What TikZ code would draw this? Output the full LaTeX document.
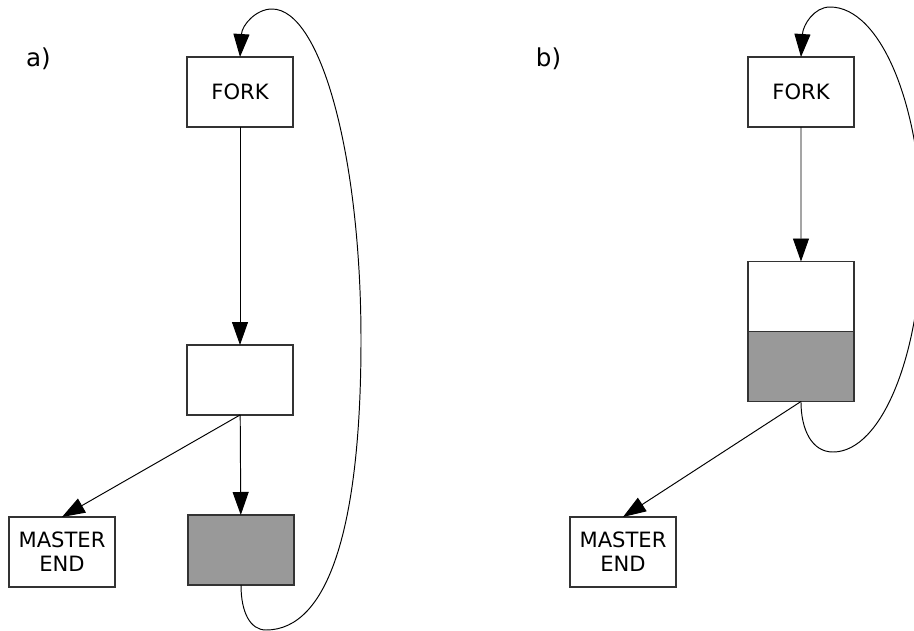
\documentclass[tikz,border=0pt]{standalone}
\usepackage{fontspec}
\setmainfont{DejaVu Sans}
\usepackage{tikz}
\usetikzlibrary{arrows.meta,positioning}
\definecolor{boxgray}{RGB}{153,153,153}

\begin{document}
\begin{tikzpicture}[scale=0.2,
  box/.style={draw=black!80,line width=0.7pt,rectangle,minimum width=2.12cm,minimum height=1.4cm,inner sep=0pt,outer sep=0pt,align=center,font=\fontsize{12}{13.6}\selectfont},
  shaded/.style={box,fill=boxgray},
  arr/.style={-{Triangle[length=0.46cm,width=0.32cm]},line width=0.55pt},
  loop/.style={line width=0.55pt}]
\useasboundingbox (0,0) rectangle (91.4,-63.1);
\node at (3.85,-5.9) (labelA) {\fontsize{14}{16}\selectfont a)};
\node [box] at (24.0,-9.2) (forkA) {FORK};
\node [box] at (24.0,-38.0) (midA) {};
\node [shaded] at (24.1,-55.0) (grayA) {};
\node [box] at (6.2,-55.2) (endA) {MASTER\\END};
\draw [arr] (forkA) -- (midA);
\draw [arr] (midA) -- (grayA);
\draw [arr] (midA.south) -- (endA.north);
\draw [loop,arr] (grayA.south) .. controls (24.1,-61.2) and (25.0,-63.0) .. (26.6,-63.0)
  .. controls (32.8,-63.0) and (36.1,-52.8) .. (36.1,-34.0)
  .. controls (36.1,-15.7) and (32.1,-0.9) .. (27.2,-0.9)
  .. controls (25.6,-0.9) and (24.2,-2.5) .. (forkA.north);
\node at (54.85,-5.9) (labelB) {\fontsize{14}{16}\selectfont b)};
\node [box] at (80.1,-9.2) (forkB) {FORK};
\node [box] at (80.1,-29.65) (whiteB) {};
\node [shaded,below=0pt of whiteB] (grayB) {};
\node [box] at (62.3,-55.2) (endB) {MASTER\\END};
\draw [arr] (forkB) -- (whiteB);
\draw [arr] (grayB.south) -- (endB.north);
\draw [loop,arr] (grayB.south) .. controls (80.1,-43.0) and (81.2,-45.2) .. (83.3,-45.2)
  .. controls (88.2,-45.2) and (92.2,-35.3) .. (92.2,-23.0)
  .. controls (92.2,-10.7) and (88.1,-0.7) .. (83.0,-0.7)
  .. controls (81.4,-0.7) and (80.3,-2.5) .. (forkB.north);
\end{tikzpicture}
\end{document}
